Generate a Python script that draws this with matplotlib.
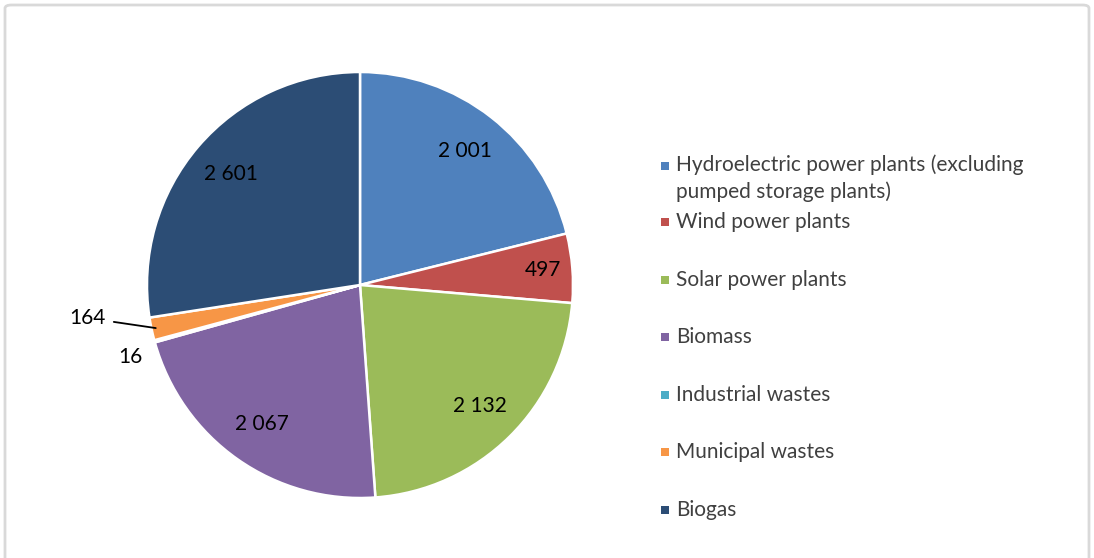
import matplotlib
matplotlib.use("Agg")
import matplotlib.pyplot as plt
import numpy as np
from matplotlib.patches import FancyBboxPatch, Rectangle

plt.rcParams['font.family'] = ['Lato', 'DejaVu Sans']

categories = ["Hydroelectric power plants (excluding\npumped storage plants)",
              "Wind power plants",
              "Solar power plants",
              "Biomass",
              "Industrial wastes",
              "Municipal wastes",
              "Biogas"]
values = [2001, 497, 2132, 2067, 16, 164, 2601]
colors = ["#4F81BD", "#C0504D", "#9BBB59", "#8064A2", "#4BACC6", "#F79646", "#2C4D75"]

W, H = 1094, 558
fig = plt.figure(figsize=(W / 100, H / 100), dpi=100)

# chart frame
frame = FancyBboxPatch((5 / W, -20 / H), (1084) / W, (H + 15) / H,
                       boxstyle="round,pad=0,rounding_size=0.006",
                       transform=fig.transFigure, facecolor="none",
                       edgecolor="#D9D9D9", linewidth=2, zorder=0)
fig.patches.append(frame)

# pie axes: centre (360, 285) px, radius 213 px
cx, cy, r = 360, 285, 213
ax = fig.add_axes([(cx - r) / W, (H - cy - r) / H, 2 * r / W, 2 * r / H])
wedges, _ = ax.pie(values, colors=colors, startangle=90, counterclock=False,
                   wedgeprops=dict(edgecolor="white", linewidth=1.8))
ax.set_xlim(-1, 1)
ax.set_ylim(-1, 1)
ax.axis("off")

def fmt(v):
    return f"{v:,}".replace(",", " ")

dist = [0.8, 0.86, 0.8, 0.8, None, None, 0.8]
for w, v, d in zip(wedges, values, dist):
    ang = np.deg2rad((w.theta1 + w.theta2) / 2)
    if d is not None:
        ax.text(d * np.cos(ang), d * np.sin(ang), fmt(v), ha="center", va="center",
                fontsize=15, color="black")

# small slices
w_ind, w_mun = wedges[4], wedges[5]
ang = np.deg2rad((w_mun.theta1 + w_mun.theta2) / 2)
ax.annotate(fmt(values[5]), xy=(0.98 * np.cos(ang), 0.98 * np.sin(ang)),
            xytext=(-1.28, -0.155), ha="center", va="center", fontsize=15,
            arrowprops=dict(arrowstyle="-", color="black", lw=1.3,
                            shrinkA=4, shrinkB=0),
            annotation_clip=False)
ax.text(-1.08, -0.338, fmt(values[4]), ha="center", va="center", fontsize=15)

# legend
ys = [166, 222] + [222 + 57.6 * k for k in range(1, 6)]
for y, lab, c in zip(ys, categories, colors):
    fig.patches.append(Rectangle((661 / W, 1 - (y + 4) / H), 8 / W, 8 / H,
                                 transform=fig.transFigure, facecolor=c,
                                 edgecolor="none"))
    fig.text(676 / W, 1 - y / H, lab, ha="left", va="top" if "\n" in lab else "center",
             fontsize=15, color="#404040", linespacing=1.4)
# adjust first (two-line) entry
fig.texts[0].set_position((676 / W, 1 - (166 - 12) / H))

fig.savefig("out.png", dpi=100)
